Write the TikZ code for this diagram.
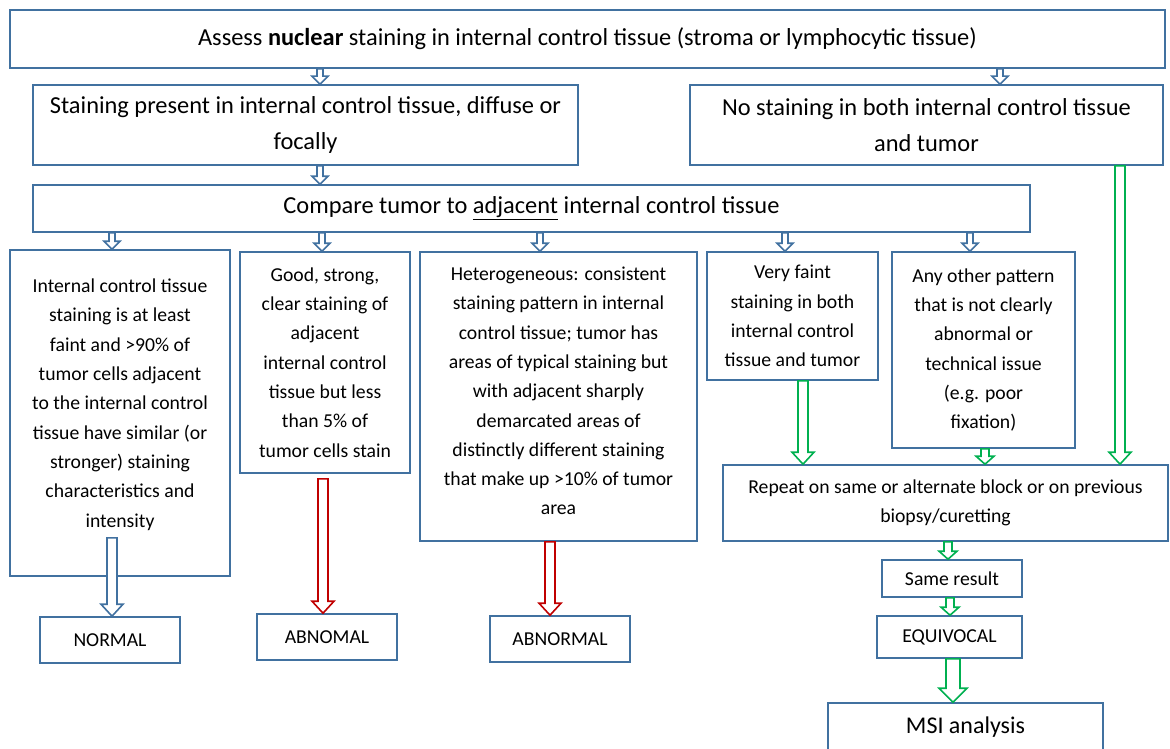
\documentclass[tikz,border=0pt]{standalone}
\usepackage{fontspec}
\setmainfont{Carlito}
\usetikzlibrary{positioning,calc}
\definecolor{boxblue}{RGB}{65,113,160}
\definecolor{arrred}{RGB}{192,0,0}
\definecolor{arrgreen}{RGB}{0,176,80}
\tikzset{
  box/.style={draw=boxblue,line width=1.6pt,rectangle,align=center,inner sep=0pt},
  big/.style={font=\fontsize{24.4}{36}\selectfont},
  small/.style={font=\fontsize{19.7}{29.3}\selectfont},
  hollow/.style n args={3}{to path={let \p1=(\tikztostart), \p2=(\tikztotarget) in
    (\x1-#1,\y1) -- (\x1+#1,\y1) -- (\x1+#1,\y2+#3) -- (\x1+#2,\y2+#3) -- (\x1,\y2)
    -- (\x1-#2,\y2+#3) -- (\x1-#1,\y2+#3) -- cycle}},
  sarr/.style={line width=1.6pt,fill=white,hollow={3pt}{8pt}{8pt}},
  larr/.style={line width=1.6pt,fill=white,hollow={5pt}{11pt}{12pt}},
}

\begin{document}
\begin{tikzpicture}[x=1pt,y=-1pt]
\useasboundingbox (0,0) rectangle (1170,749);
% top rows
\node[box,big,minimum width=1155pt,minimum height=58pt] (assess) at (587.5,39)
  {Assess \textbf{nuclear} staining in internal control tissue (stroma or lymphocytic tissue)};
\node[box,big,minimum width=545pt,minimum height=80pt] (present) at (305.5,125)
  {Staining present in internal control tissue, diffuse or\\ focally};
\node[box,big,minimum width=473pt,minimum height=80pt] (nostain) at (926.5,125)
  {No staining in both internal control tissue\\ and tumor};
\node[box,big,minimum width=997pt,minimum height=47pt] (compare) at (531.5,208.5)
  {Compare tumor to \underline{adjacent} internal control tissue};
% criteria
\node[box,small,minimum width=220pt,minimum height=326pt,text depth=20pt] (similar) at (120,413)
  {Internal control tissue\\ staining is at least\\ faint and >90\% of\\ tumor cells adjacent\\ to the internal control\\ tissue have similar (or\\ stronger) staining\\ characteristics and\\ intensity};
\node[box,small,minimum width=170pt,minimum height=221pt] (strong) at (325,362.5)
  {Good, strong,\\ clear staining of\\ adjacent\\ internal control\\ tissue but less\\ than 5\% of\\ tumor cells stain};
\node[box,small,minimum width=277pt,minimum height=289pt,text depth=11pt] (hetero) at (558.5,396.5)
  {Heterogeneous: consistent\\ staining pattern in internal\\ control tissue; tumor has\\ areas of typical staining but\\ with adjacent sharply\\ demarcated areas of\\ distinctly different staining\\ that make up >10\% of tumor\\ area};
\node[box,small,minimum width=171pt,minimum height=128pt] (faint) at (792.5,316)
  {Very faint\\ staining in both\\ internal control\\ tissue and tumor};
\node[box,small,minimum width=183pt,minimum height=196pt] (other) at (983.5,350)
  {Any other pattern\\ that is not clearly\\ abnormal or\\ technical issue\\ (e.g. poor\\ fixation)};
\node[box,small,minimum width=445pt,minimum height=76pt] (repeat) at (945.5,503)
  {Repeat on same or alternate block or on previous\\ biopsy/curetting};
% results
\node[box,small,minimum width=140pt,minimum height=46pt] (normal) at (110,640) {NORMAL};
\node[box,small,minimum width=140pt,minimum height=46pt] (abnomal) at (327,637) {ABNOMAL};
\node[box,small,minimum width=140pt,minimum height=46pt] (abnormal) at (560,639) {ABNORMAL};
\node[box,small,minimum width=140pt,minimum height=37pt] (same) at (952,578.5) {Same result};
\node[box,small,minimum width=145pt,minimum height=42pt] (equiv) at (949.5,637) {EQUIVOCAL};
\node[box,font=\fontsize{24}{28}\selectfont,minimum width=275pt,minimum height=49pt] (msi) at (965.5,727.5) {MSI analysis};
% blue arrows
\draw[boxblue,sarr] (assess.south -| 320,0) to (present.north -| 320,0);
\draw[boxblue,sarr] (assess.south -| 1000,0) to (nostain.north -| 1000,0);
\draw[boxblue,sarr] (present.south -| 320,0) to (compare.north -| 320,0);
\draw[boxblue,sarr] (compare.south -| 112,0) to (similar.north -| 112,0);
\draw[boxblue,sarr] (compare.south -| 322,0) to (strong.north -| 322,0);
\draw[boxblue,sarr] (compare.south -| 540,0) to (hetero.north -| 540,0);
\draw[boxblue,sarr] (compare.south -| 785,0) to (faint.north -| 785,0);
\draw[boxblue,sarr] (compare.south -| 970,0) to (other.north -| 970,0);
\draw[boxblue,larr] ([yshift=39pt]similar.south -| 112,0) to (normal.north -| 112,0);
% red arrows
\draw[arrred,larr] ([yshift=-5pt]strong.south -| 323,0) to (abnomal.north -| 323,0);
\draw[arrred,larr] (hetero.south -| 550,0) to (abnormal.north -| 550,0);
% green arrows
\draw[arrgreen,larr] (nostain.south -| 1120,0) to (repeat.north -| 1120,0);
\draw[arrgreen,larr] (faint.south -| 803,0) to (repeat.north -| 803,0);
\draw[arrgreen,sarr,hollow={4pt}{9pt}{8pt}] (other.south -| 985,0) to (repeat.north -| 985,0);
\draw[arrgreen,sarr,hollow={4pt}{9pt}{8pt}] (repeat.south -| 948,0) to (same.north -| 948,0);
\draw[arrgreen,sarr,hollow={4pt}{9pt}{8pt}] (same.south -| 950,0) to (equiv.north -| 950,0);
\draw[arrgreen,larr,hollow={7pt}{14pt}{14pt}] (equiv.south -| 953,0) to (msi.north -| 953,0);
\end{tikzpicture}
\end{document}
